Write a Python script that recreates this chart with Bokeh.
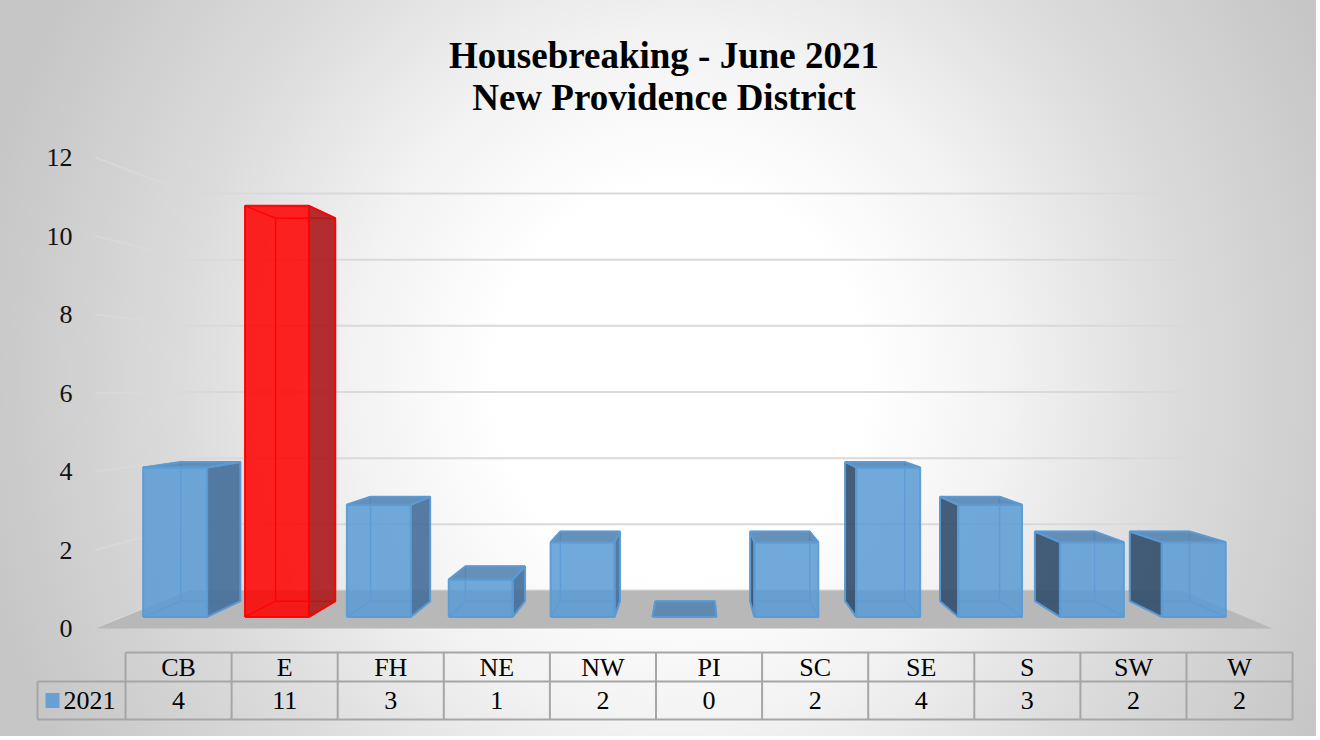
import numpy as np
from bokeh.plotting import figure
from bokeh.models import Range1d, FixedTicker
from bokeh.layouts import column
from bokeh.embed import file_html
from bokeh.resources import INLINE
from bokeh.core.properties import value

# ---------------- data ----------------
TITLE_LINES = ["Housebreaking - June 2021", "New Providence District"]
SERIES = "2021"
categories = ["CB", "E", "FH", "NE", "NW", "PI", "SC", "SE", "S", "SW", "W"]
counts = [4, 11, 3, 1, 2, 0, 2, 4, 3, 2, 2]
y_ticks = [0, 2, 4, 6, 8, 10, 12]

# ---------------- style / layout ----------------
FONT = "Liberation Serif"
BAR_FRONT = "#5b9bd5"
BAR_EDGE = "#5b9bd5"
BAR_SIDE_R = "#48709a"
BAR_SIDE_L = "#34506e"
BAR_TOP = "#5684b0"
HI_FRONT = "#ff0000"
HI_EDGE = "#ff0000"
HI_SIDE = "#ad1c1c"
HI_TOP = "#d01010"
GRID = "#d9d9d9"
FLOOR = "#b8b8b8"
TABLE_LINE = "#a6a6a6"
BACKGROUND = "radial-gradient(660px 700px at 680px 380px, #ffffff 0%, #ffffff 28%, #f2f2f2 50%, #dcdcdc 75%, #c6c6c6 108%)"

FIG_W = 1316
TOP_H = 646
BOT_H = 90
PAGE_X0, PAGE_Y0 = 0, 0
AXIS_W = 80

# front plane mapping (page pixels)
FP_LEFT = 95.0
FP_STEP = 107.0
FP_ZERO = 628.0
FP_UNIT = 39.25


def px_to_x(px):
    return (px - FP_LEFT) / FP_STEP - 0.5


def py_to_y(py):
    return (FP_ZERO - py) / FP_UNIT


# perspective
XV = px_to_x(693.0)
YV = py_to_y(386.0)
S_BAR_F = 0.952
S_BAR_B = 0.887
S_WALL = 0.843
HALF = 0.314


def proj(X, Y, s):
    return XV + (X - XV) * s, YV + (Y - YV) * s


# ---------------- top figure (3-D bars) ----------------
fx0 = PAGE_X0 + AXIS_W
fx1 = PAGE_X0 + FIG_W
fy0 = PAGE_Y0
fy1 = PAGE_Y0 + TOP_H
xr = Range1d(px_to_x(fx0), px_to_x(fx1))
yr = Range1d(py_to_y(fy1), py_to_y(fy0))

p = figure(width=FIG_W, height=TOP_H, x_range=xr, y_range=yr,
           output_backend="svg", toolbar_location=None,
           x_axis_location=None, y_axis_location="left",
           min_border_left=AXIS_W, min_border_right=0,
           min_border_top=0, min_border_bottom=0, frame_align=False)
p.outline_line_color = None
p.grid.visible = False
p.border_fill_alpha = 0
p.background_fill_alpha = 0

ax = p.yaxis[0]
ax.ticker = FixedTicker(ticks=y_ticks)
ax.axis_line_color = None
ax.major_tick_line_color = None
ax.minor_tick_line_color = None
ax.major_tick_in = 0
ax.major_tick_out = 0
ax.major_label_standoff = 8
ax.major_label_text_font = FONT
ax.major_label_text_font_size = "26px"
ax.major_label_text_color = "#111111"

n = len(categories)
# grid lines: left wall + back wall
lw_x, lw_y, bw_x, bw_y = [], [], [], []
for t in y_ticks:
    ax0, ay0 = proj(-0.5, t, 1.0)
    ax1, ay1 = proj(-0.5, t, S_WALL)
    bx1, by1 = proj(n - 0.5, t, S_WALL)
    lw_x.append([ax0, ax1]); lw_y.append([ay0, ay1])
    bw_x.append([ax1, bx1]); bw_y.append([ay1, by1])
p.multi_line(lw_x, lw_y, line_color=GRID, line_width=2, line_alpha=0.75)
p.multi_line(bw_x, bw_y, line_color=GRID, line_width=2)

# floor
fl = [proj(-0.5, 0, 1.0), proj(n - 0.5, 0, 1.0), proj(n - 0.5, 0, S_WALL), proj(-0.5, 0, S_WALL)]
p.patch([c[0] for c in fl], [c[1] for c in fl], fill_color=FLOOR, line_color=None)

# bars
hi = int(np.argmax(counts))
hid_x, hid_y, hid_c = [], [], []
side_x, side_y, side_c = [], [], []
top_x, top_y, top_c = [], [], []
fr_x, fr_y, fr_c = [], [], []
vis_x, vis_y, vis_c = [], [], []

order = sorted(range(n), key=lambda i: -abs(i - XV))
for i in order:
    v = counts[i]
    x0, x1 = i - HALF, i + HALF
    is_hi = (i == hi)
    edge = HI_EDGE if is_hi else BAR_EDGE
    F = [proj(x0, 0, S_BAR_F), proj(x1, 0, S_BAR_F), proj(x1, v, S_BAR_F), proj(x0, v, S_BAR_F)]
    B = [proj(x0, 0, S_BAR_B), proj(x1, 0, S_BAR_B), proj(x1, v, S_BAR_B), proj(x0, v, S_BAR_B)]
    for a, b in [(0, 1), (1, 2), (2, 3), (3, 0)]:
        hid_x.append([B[a][0], B[b][0]]); hid_y.append([B[a][1], B[b][1]]); hid_c.append(edge)
    for k in range(4):
        hid_x.append([F[k][0], B[k][0]]); hid_y.append([F[k][1], B[k][1]]); hid_c.append(edge)
    if i < XV:
        sd = [F[1], F[2], B[2], B[1]]
        sc = HI_SIDE if is_hi else BAR_SIDE_R
    else:
        sd = [F[0], F[3], B[3], B[0]]
        sc = HI_SIDE if is_hi else BAR_SIDE_L
    if v > 0:
        side_x.append([c[0] for c in sd]); side_y.append([c[1] for c in sd]); side_c.append(sc)
        vis_x.append([c[0] for c in sd] + [sd[0][0]]); vis_y.append([c[1] for c in sd] + [sd[0][1]]); vis_c.append(edge)
    if v < YV:
        tp = [F[3], F[2], B[2], B[3]]
        top_x.append([c[0] for c in tp]); top_y.append([c[1] for c in tp])
        top_c.append(HI_TOP if is_hi else BAR_TOP)
        vis_x.append([c[0] for c in tp] + [tp[0][0]]); vis_y.append([c[1] for c in tp] + [tp[0][1]]); vis_c.append(edge)
    if v > 0:
        fr_x.append([c[0] for c in F]); fr_y.append([c[1] for c in F])
        fr_c.append(HI_FRONT if is_hi else BAR_FRONT)
        vis_x.append([c[0] for c in F] + [F[0][0]]); vis_y.append([c[1] for c in F] + [F[0][1]]); vis_c.append(edge)

p.multi_line(hid_x, hid_y, line_color=hid_c, line_width=1.5, line_alpha=0.9)
p.patches(side_x, side_y, fill_color=side_c, fill_alpha=0.92, line_color=None)
p.patches(top_x, top_y, fill_color=top_c, fill_alpha=0.9, line_color=None)
p.patches(fr_x, fr_y, fill_color=fr_c, fill_alpha=0.86, line_color=None)
p.multi_line(vis_x, vis_y, line_color=vis_c, line_width=2, line_alpha=0.95)

# title
TITLE_CX = px_to_x(663.5)
p.text(x=[TITLE_CX, TITLE_CX], y=[py_to_y(55), py_to_y(97)], text=TITLE_LINES,
       text_font=value(FONT), text_font_style="bold", text_font_size="37px",
       text_align="center", text_baseline="middle", text_color="#000000")

# ---------------- bottom figure (data table) ----------------
TB_LEFT = 125.0
TB_STEP = 106.1


def tx(px):
    return (px - TB_LEFT) / TB_STEP - 0.5


bx0, bx1 = PAGE_X0, PAGE_X0 + FIG_W
by0, by1 = PAGE_Y0 + TOP_H, PAGE_Y0 + TOP_H + BOT_H
q = figure(width=FIG_W, height=BOT_H, x_range=Range1d(tx(bx0), tx(bx1)),
           y_range=Range1d(-by1, -by0), output_backend="svg", toolbar_location=None,
           x_axis_location=None, y_axis_location=None,
           min_border_left=0, min_border_right=0, min_border_top=0, min_border_bottom=0,
           frame_align=False)
q.outline_line_color = None
q.grid.visible = False
q.border_fill_alpha = 0
q.background_fill_alpha = 0

ROW_TOP, ROW_MID, ROW_BOT = -652, -681, -719
LABEL_LEFT = tx(37)
h_x = [[-0.5, n - 0.5], [LABEL_LEFT, n - 0.5], [LABEL_LEFT, n - 0.5]]
h_y = [[ROW_TOP, ROW_TOP], [ROW_MID, ROW_MID], [ROW_BOT, ROW_BOT]]
v_x = [[LABEL_LEFT, LABEL_LEFT]] + [[k - 0.5, k - 0.5] for k in range(n + 1)]
v_y = [[ROW_MID, ROW_BOT]] + [[ROW_TOP, ROW_BOT] for _ in range(n + 1)]
q.multi_line(h_x + v_x, h_y + v_y, line_color=TABLE_LINE, line_width=2)

cols = list(range(n))
q.text(x=cols, y=[(ROW_TOP + ROW_MID) / 2] * n, text=categories,
       text_font=value(FONT), text_font_size="26px", text_align="center",
       text_baseline="middle", text_color="#000000")
q.text(x=cols, y=[(ROW_MID + ROW_BOT) / 2] * n, text=[str(c) for c in counts],
       text_font=value(FONT), text_font_size="26px", text_align="center",
       text_baseline="middle", text_color="#000000")
q.rect(x=[tx(52)], y=[(ROW_MID + ROW_BOT) / 2], width=14, height=15,
       width_units="screen", height_units="screen", fill_color=BAR_FRONT,
       fill_alpha=0.9, line_color=None)
q.text(x=[tx(63)], y=[(ROW_MID + ROW_BOT) / 2], text=[SERIES],
       text_font=value(FONT), text_font_size="26px", text_align="left",
       text_baseline="middle", text_color="#000000")

layout = column(p, q, spacing=0, styles={"background": BACKGROUND})
open("out.html", "w").write(file_html(layout, INLINE))
